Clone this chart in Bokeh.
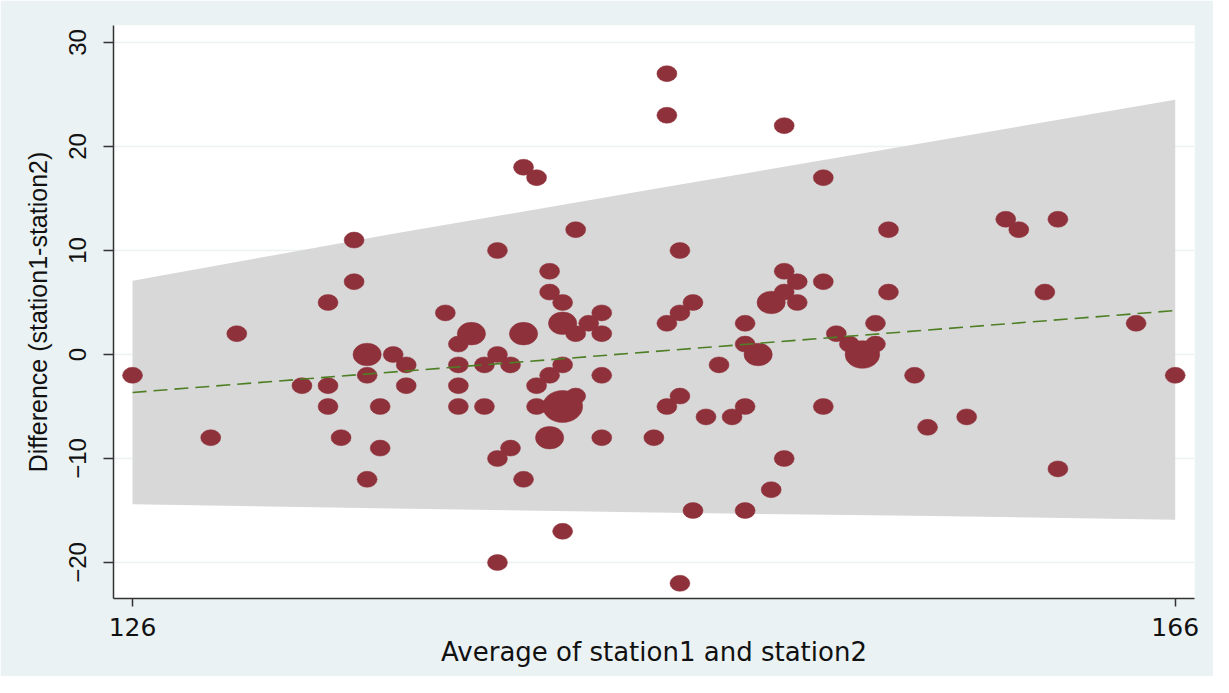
import numpy as np
from bokeh.plotting import figure
from bokeh.models import Range1d, FixedTicker, ColumnDataSource
from bokeh.embed import file_html
from bokeh.resources import INLINE

# ---- data (Bland-Altman style plot) ----
avg = [126, 129, 130, 132.5, 133.5, 133.5, 133.5, 134, 134.5, 134.5,
       135, 135, 135, 135.5, 135.5, 136, 136.5, 136.5, 138, 138.5,
       139, 138.5, 138.5, 138.5, 139.5, 139.5, 140, 140, 140, 140,
       140.5, 140.5, 141, 141, 141, 141.5, 141.5, 141.5, 142, 142,
       142, 142, 142.5, 142.5, 142.5, 143, 142.5, 142.5, 143, 143,
       143.5, 144, 144, 144, 144, 146, 146.5, 146.5, 146.5, 146.5,
       147, 147, 147, 147, 147.5, 147.5, 148, 148.5, 149, 149.5,
       149.5, 149.5, 149.5, 150, 150.5, 151, 151, 151.5, 151.5, 151,
       151, 150.5, 152.5, 152.5, 152.5, 153, 153.5, 154, 154.5, 154.5,
       155, 155, 156, 156.5, 158, 159.5, 160, 161, 161.5, 161.5,
       164.5, 166]
diff = [-2, -8, 2, -3, 5, -3, -5, -8, 7, 11,
        0, -2, -12, -5, -9, 0, -1, -3, 4, 1,
        2, -1, -3, -5, -1, -5, 0, 10, -10, -20,
        -9, -1, 2, -12, 18, 17, -3, -5, -8, 8,
        6, -2, 5, 3, -5, -4, -1, -17, 12, 2,
        3, 4, 2, -2, -8, -8, 27, 23, 3, -5,
        10, 4, -4, -22, 5, -15, -6, -1, -6, 3,
        1, -5, -15, 0, 5, 8, 6, 7, 5, 22,
        -10, -13, 7, 17, -5, 2, 1, 0, 1, 3,
        12, 6, -2, -7, -6, 13, 12, 6, 13, -11,
        3, -2]
count = [1, 1, 1, 1, 1, 1, 1, 1, 1, 1,
         2, 1, 1, 1, 1, 1, 1, 1, 1, 1,
         2, 1, 1, 1, 1, 1, 1, 1, 1, 1,
         1, 1, 2, 1, 1, 1, 1, 1, 2, 1,
         1, 1, 1, 2, 4, 1, 1, 1, 1, 1,
         1, 1, 1, 1, 1, 1, 1, 1, 1, 1,
         1, 1, 1, 1, 1, 1, 1, 1, 1, 1,
         1, 1, 1, 2, 2, 1, 1, 1, 1, 1,
         1, 1, 1, 1, 1, 1, 1, 3, 1, 1,
         1, 1, 1, 1, 1, 1, 1, 1, 1, 1,
         1, 1]

# fitted mean difference and limits band
fit_x = [126, 166]
fit_y = [-3.65, 4.22]
band_x = [126, 136, 146, 156, 166]
band_upper = [7.1, 11.6, 15.9, 20.2, 24.5]
band_lower = [-14.4, -14.8, -15.2, -15.5, -15.9]

x_ticks = [126, 166]
y_ticks = [-20, -10, 0, 10, 20, 30]

BG = "#EAF2F3"
MARKER = "#8E313B"

p = figure(width=1213, height=676,
           x_range=Range1d(125.27, 166.74), y_range=Range1d(-23.46, 31.63),
           output_backend="svg", toolbar_location=None,
           min_border_left=113, min_border_right=19,
           min_border_top=25, min_border_bottom=78)
p.background_fill_color = "white"
p.border_fill_color = BG
p.outline_line_color = None

p.xgrid.visible = False
p.ygrid.ticker = FixedTicker(ticks=y_ticks)
p.ygrid.grid_line_color = BG
p.ygrid.grid_line_width = 1.5

# band
p.varea(x=band_x, y1=band_lower, y2=band_upper, fill_color="#D8D8D8", fill_alpha=1.0)

# points (weighted markers)
cnt = np.array(count, dtype=float)
src = ColumnDataSource(dict(x=avg, y=diff,
                            w=(20 * np.sqrt(cnt)).tolist(),
                            h=(16 * np.sqrt(cnt)).tolist()))
p.ellipse(x="x", y="y", width="w", height="h", width_units="screen",
          height_units="screen", source=src, fill_color=MARKER,
          line_color=MARKER, line_width=0.5)

# fitted line
p.line(fit_x, fit_y, line_color="#4E7F25", line_width=1.6, line_dash="14 7")

# axes
TXT = "#111111"
p.xaxis.ticker = FixedTicker(ticks=x_ticks)
p.yaxis.ticker = FixedTicker(ticks=y_ticks)
for ax in (p.xaxis[0], p.yaxis[0]):
    ax.axis_line_color = "#333333"
    ax.axis_line_width = 1.5
    ax.major_tick_line_color = "#333333"
    ax.major_tick_line_width = 1.5
    ax.major_tick_in = 0
    ax.minor_tick_line_color = None
    ax.major_label_text_color = TXT
    ax.axis_label_text_color = TXT
    ax.axis_label_text_font_style = "normal"

p.xaxis.major_tick_out = 8
p.xaxis.major_label_standoff = 11
p.xaxis.major_label_text_font = "DejaVu Sans"
p.xaxis.major_label_text_font_size = "25px"
p.xaxis.axis_label = "Average of station1 and station2"
p.xaxis.axis_label_text_font = "DejaVu Sans"
p.xaxis.axis_label_text_font_size = "26px"
p.xaxis.axis_label_standoff = -2

p.yaxis.major_tick_out = 10
p.yaxis.major_label_standoff = 17
p.yaxis.major_label_orientation = "vertical"
p.yaxis.major_label_text_font = "Liberation Sans"
p.yaxis.major_label_text_font_size = "24px"
p.yaxis.axis_label = "Difference (station1-station2)"
p.yaxis.axis_label_text_font = "Liberation Sans"
p.yaxis.axis_label_text_font_size = "25px"
p.yaxis.axis_label_standoff = 15

open("out.html", "w").write(file_html(p, INLINE))
